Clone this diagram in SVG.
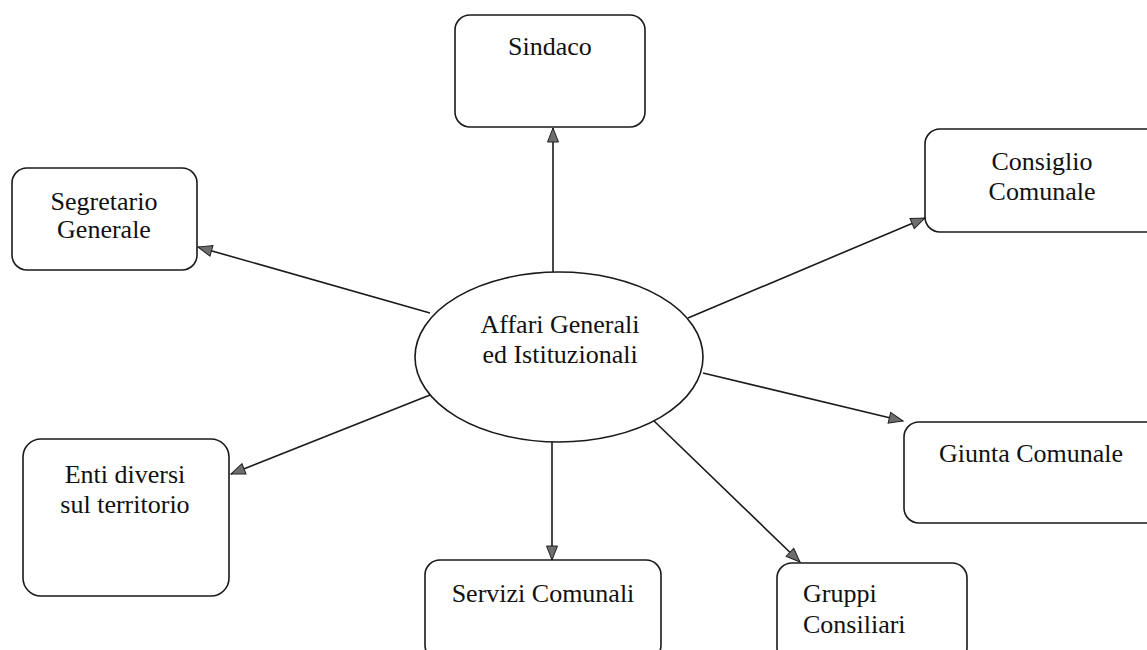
<svg xmlns="http://www.w3.org/2000/svg" width="1147" height="650" viewBox="0 0 1147 650">
<style>
.box{fill:#fff;stroke:#1a1a1a;stroke-width:1.6}
.t{font-family:"Liberation Serif","Times New Roman",serif;font-size:26px;fill:#111;text-anchor:middle}
.tl{text-anchor:start}
.c{stroke:#1a1a1a;stroke-width:1.6;fill:none;marker-end:url(#ah)}
</style>
<defs>
<marker id="ah" markerUnits="userSpaceOnUse" markerWidth="18" markerHeight="14" refX="15" refY="6.5" orient="auto">
<path d="M1,1 L15,6.5 L1,12 Z" fill="#6e6e6e" stroke="#222" stroke-width="1"/>
</marker>
</defs>
<rect width="1147" height="650" fill="#fff"/>
<g id="connectors">
<line class="c" x1="553" y1="272" x2="553" y2="128"/>
<line class="c" x1="430" y1="313" x2="198" y2="247"/>
<line class="c" x1="688" y1="318" x2="925" y2="218"/>
<line class="c" x1="703" y1="373" x2="903" y2="421"/>
<line class="c" x1="653" y1="420" x2="800" y2="562"/>
<line class="c" x1="552" y1="442" x2="552" y2="560"/>
<line class="c" x1="430" y1="395" x2="231" y2="474"/>
</g>
<g id="center">
<ellipse class="box" cx="559" cy="357" rx="144" ry="85"/>
<text class="t" x="560" y="333">Affari Generali</text>
<text class="t" x="560" y="363">ed Istituzionali</text>
</g>
<g id="sindaco">
<rect class="box" x="455" y="15" width="190" height="112" rx="15"/>
<text class="t" x="550" y="55">Sindaco</text>
</g>
<g id="segretario">
<rect class="box" x="12" y="168" width="185" height="102" rx="15"/>
<text class="t" x="104" y="210">Segretario</text>
<text class="t" x="104" y="238">Generale</text>
</g>
<g id="consiglio">
<rect class="box" x="925" y="129" width="240" height="103" rx="15"/>
<text class="t" x="1042" y="170">Consiglio</text>
<text class="t" x="1042" y="200">Comunale</text>
</g>
<g id="giunta">
<rect class="box" x="904" y="422" width="260" height="101" rx="15"/>
<text class="t" x="1031" y="462">Giunta Comunale</text>
</g>
<g id="gruppi">
<rect class="box" x="777" y="563" width="190" height="100" rx="15"/>
<text class="t tl" x="803" y="602">Gruppi</text>
<text class="t tl" x="803" y="633">Consiliari</text>
</g>
<g id="servizi">
<rect class="box" x="425" y="560" width="236" height="100" rx="15"/>
<text class="t" x="543" y="602">Servizi Comunali</text>
</g>
<g id="enti">
<rect class="box" x="23" y="439" width="206" height="157" rx="18"/>
<text class="t" x="125" y="483">Enti diversi</text>
<text class="t" x="125" y="513">sul territorio</text>
</g>
</svg>
